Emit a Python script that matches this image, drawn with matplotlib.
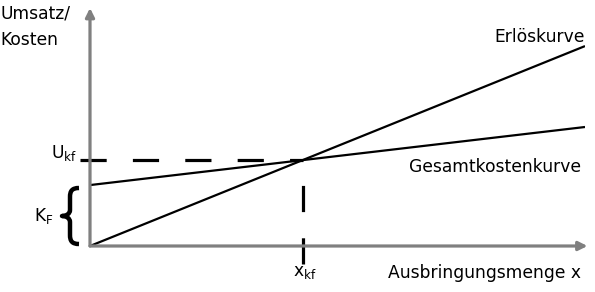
import numpy as np
import matplotlib
matplotlib.use('Agg')
import matplotlib.pyplot as plt
from matplotlib.path import Path
import matplotlib.patches as mpatches

# Chart data (units of the drawn axes: x 0..10, y 0..10)
quantity = [0.0, 10.0]
revenue = [0.0, 8.4]          # Erlöskurve
total_cost = [2.56, 5.0]      # Gesamtkostenkurve
fixed_cost = total_cost[0]

# break-even point from the two lines
p = (revenue[1] - revenue[0]) / (quantity[1] - quantity[0])
kv = (total_cost[1] - total_cost[0]) / (quantity[1] - quantity[0])
x_kf = fixed_cost / (p - kv)
u_kf = p * x_kf

W, H = 595, 292
fig = plt.figure(figsize=(W / 100, H / 100), dpi=100)
ax = fig.add_axes([90 / W, (H - 246) / H, 495 / W, 238 / H])
ax.set_xlim(0, 10)
ax.set_ylim(0, 10)
ax.axis('off')


def fx(px):
    return px / W


def fy(py):
    return 1 - py / H


grey = '#808080'
# axes with arrows
ax.annotate('', xy=(10.05, 0), xytext=(0, 0), annotation_clip=False,
            arrowprops=dict(arrowstyle='-|>', color=grey, lw=2.3,
                            mutation_scale=13, shrinkA=0, shrinkB=0))
ax.annotate('', xy=(0, 10.0), xytext=(0, 0), annotation_clip=False,
            arrowprops=dict(arrowstyle='-|>', color=grey, lw=2.3,
                            mutation_scale=13, shrinkA=0, shrinkB=0))

ax.plot(quantity, revenue, color='black', lw=1.6, solid_capstyle='butt')
ax.plot(quantity, total_cost, color='black', lw=1.6, solid_capstyle='butt')

# dashed helper lines
ax.plot([-0.2, x_kf], [u_kf, u_kf], color='black', lw=2.3,
        dashes=(8.2, 8.2), clip_on=False)
ax.plot([x_kf, x_kf], [-0.76, u_kf], color='black', lw=2.3,
        dashes=(8.2, 8.2), clip_on=False)

fs = 12.3
fig.text(fx(0), fy(13), 'Umsatz/', fontsize=fs, va='center', ha='left')
fig.text(fx(0), fy(40), 'Kosten', fontsize=fs, va='center', ha='left')
fig.text(fx(51), fy(153), r'U$_{\mathregular{kf}}$', fontsize=fs,
         va='center', ha='left')
fig.text(fx(34), fy(216), r'K$_{\mathregular{F}}$', fontsize=fs,
         va='center', ha='left')
fig.text(fx(293), fy(272), r'x$_{\mathregular{kf}}$', fontsize=fs,
         va='center', ha='left')
fig.text(fx(585), fy(37), 'Erlöskurve', fontsize=fs, va='center', ha='right')
fig.text(fx(581), fy(167), 'Gesamtkostenkurve', fontsize=fs,
         va='center', ha='right')
fig.text(fx(581), fy(273), 'Ausbringungsmenge x', fontsize=fs,
         va='center', ha='right')

# curly brace for fixed costs (figure pixel coordinates, y down)
bx = [(79, 188), (72, 188), (70, 191), (70, 197),
      (70, 203), (70, 210), (70, 210),
      (70, 214), (66, 216), (62, 216),
      (66, 216), (70, 218), (70, 222),
      (70, 229), (70, 235), (70, 235),
      (70, 241), (72, 244), (79, 244)]
codes = [Path.MOVETO] + [Path.CURVE4] * 3 + [Path.CURVE4] * 3 + \
        [Path.CURVE4] * 3 + [Path.CURVE4] * 3 + [Path.CURVE4] * 3 + \
        [Path.CURVE4] * 3
verts = [(fx(x), fy(y)) for x, y in bx]
brace = mpatches.PathPatch(Path(verts, codes), transform=fig.transFigure,
                           fill=False, lw=3.2, color='black',
                           capstyle='butt', joinstyle='round')
fig.patches.append(brace)

fig.savefig('out.png', dpi=100)
